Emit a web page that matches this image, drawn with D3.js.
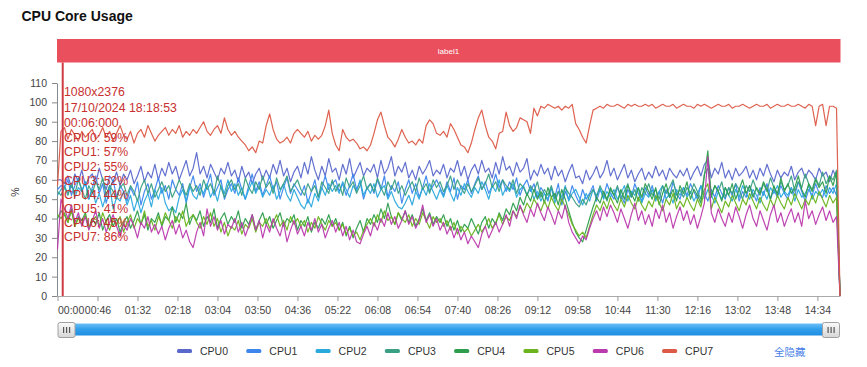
<!DOCTYPE html>
<html><head><meta charset="utf-8">
<script src="https://cdn.jsdelivr.net/npm/d3@7"></script>
<style>
html,body{margin:0;padding:0;background:#fff;}
svg{display:block;font-family:"Liberation Sans",Arial,Helvetica,sans-serif;}
</style></head><body>
<svg id="chart" width="867" height="367"></svg>
<script>
const chartTitle = "CPU Core Usage";
const markLabel = "label1";
const seriesNames = ["CPU0","CPU1","CPU2","CPU3","CPU4","CPU5","CPU6","CPU7"];
const sampleSeconds = d3.range(0, 901, 4);

const cpu0 = [
60,60,58,62,56,63,59,65,57,61, 63,58,66,60,55,62,59,64,57,63,
60,65,58,62,67,59,64,61,68,60, 66,62,69,63,67,60,65,70,62,66,
74,63,67,61,68,64,60,66,63,69, 62,65,59,67,61,64,58,63,66,60,
65,61,68,63,70,62,66,59,64,67, 61,69,63,72,65,60,67,62,71,64,
66,60,68,63,71,61,65,69,62,66, 64,68,61,70,63,66,72,62,67,64,
69,61,65,60,67,63,66,70,62,65, 63,68,61,66,64,70,62,67,60,65,
68,63,70,64,66,61,69,63,72,65, 67,62,69,64,66,71,60,65,62,68,
63,66,60,67,62,65,59,64,68,61, 62,58,65,60,63,67,61,64,70,62,
66,60,64,68,61,65,59,63,66,60, 64,61,67,62,65,60,66,63,61,65,
62,66,60,64,67,62,68,70,61,66, 63,69,61,65,60,66,62,64,67,61,
65,60,66,62,68,63,59,65,61,64, 62,67,60,64,66,61,65,63,60,66,
62,64,59,65,61,0];
const cpu1 = [
55,57,56,60,52,57,61,54,59,50, 56,62,53,58,48,55,60,51,57,54,
49,56,52,59,47,54,58,50,55,61, 53,57,50,60,55,52,58,48,56,62,
54,58,51,57,63,52,56,60,50,55, 58,53,61,55,50,57,63,54,59,52,
57,62,55,59,50,56,61,53,58,55, 52,57,48,54,60,51,56,62,55,58,
60,54,58,52,57,63,55,59,50,56, 58,53,60,55,62,51,57,54,59,48,
55,60,53,58,51,56,62,54,57,60, 56,52,59,54,61,50,57,55,60,53,
58,62,55,59,53,57,63,56,60,54, 59,55,61,52,57,60,54,58,51,56,
53,49,56,51,58,47,54,50,57,52, 48,55,50,53,57,49,55,51,58,53,
50,56,52,48,55,51,58,53,49,56, 52,57,50,54,48,55,51,59,53,50,
56,52,58,54,50,57,53,49,55,51, 57,53,50,56,52,58,49,54,51,57,
53,49,56,52,58,50,55,51,57,53, 50,56,52,59,54,49,55,52,58,53,
51,57,53,56,52,0];
const cpu2 = [
52,55,57,53,58,51,56,54,59,50, 55,48,53,46,52,57,45,51,49,54,
47,52,44,50,43,49,53,46,55,50, 56,48,44,46,43,51,55,49,57,52,
50,56,53,58,51,55,49,57,53,60, 54,58,52,56,50,55,59,53,57,51,
55,52,57,50,54,58,52,49,55,51, 47,45,50,46,53,49,56,52,58,54,
57,53,59,55,51,57,54,60,52,56, 53,58,51,55,57,50,54,49,46,45,
48,52,47,54,50,56,52,58,54,50, 55,51,57,53,49,56,52,58,54,51,
56,53,59,55,50,57,54,60,52,56, 54,58,51,55,57,52,56,50,54,49,
53,50,56,48,54,51,57,49,53,55, 51,47,53,49,55,52,56,50,54,51,
55,50,53,57,49,54,52,56,48,53, 51,55,49,54,57,50,53,48,55,52,
56,51,54,49,53,57,50,55,52,48, 54,50,56,52,49,55,51,57,53,50,
55,52,48,54,50,56,53,57,51,54, 52,56,49,55,51,53,57,50,54,52,
55,51,56,53,58,0];
const cpu3 = [
54,52,56,52,58,53,60,55,50,57, 53,59,55,61,52,57,54,50,56,58,
52,57,54,49,56,60,53,58,51,55, 59,54,57,51,55,60,56,52,58,54,
57,52,60,55,58,53,62,56,51,57, 60,55,58,52,61,56,53,59,55,62,
56,59,53,61,55,58,62,54,57,60, 55,52,58,54,57,51,59,56,53,60,
54,58,52,61,56,59,53,57,62,55, 58,54,61,56,52,59,55,60,53,57,
52,56,59,54,61,55,58,53,60,56, 59,54,57,62,55,60,56,53,58,54,
57,61,55,58,63,56,59,54,60,57, 55,60,53,58,56,52,57,54,59,51,
55,52,57,50,54,49,56,53,51,48, 46,50,47,52,55,51,57,53,49,55,
52,57,50,54,58,51,55,49,56,53, 58,52,55,50,57,53,56,60,52,55,
51,56,53,58,54,50,63,66,52,57, 54,59,51,56,53,58,55,50,57,54,
60,55,52,58,54,61,56,53,59,55, 57,62,54,59,56,63,58,55,61,57,
64,58,62,60,65,0];
const cpu4 = [
40,44,42,38,45,36,41,39,43,35, 40,37,43,34,39,42,36,40,33,38,
41,35,39,44,37,42,34,40,38,43, 36,41,39,46,38,43,40,48,37,42,
39,44,36,41,38,45,35,40,43,37, 41,38,44,35,40,37,42,34,39,43,
37,41,35,39,43,36,40,38,42,34, 39,36,41,33,38,35,40,37,42,36,
40,34,38,31,36,30,35,39,33,40, 37,42,38,45,40,48,41,37,43,39,
44,38,42,36,40,45,39,43,37,41, 38,42,36,40,34,39,33,37,35,40,
36,32,38,41,35,40,37,43,39,45, 42,48,44,51,47,53,49,55,50,54,
48,56,51,53,47,55,50,44,38,33, 30,28,34,40,46,51,48,54,50,56,
52,48,55,50,57,53,49,56,51,58, 54,50,56,47,53,58,51,55,49,57,
53,59,50,55,52,48,62,75,51,57, 54,49,56,52,58,50,55,60,53,57,
51,56,53,59,55,50,57,52,61,54, 58,53,56,62,55,51,58,54,60,56,
59,53,62,57,64,0];
const cpu5 = [
42,40,43,38,44,36,40,37,42,35, 39,41,36,43,38,34,40,37,41,33,
38,42,35,40,37,44,36,39,34,41, 37,43,39,35,41,38,44,36,40,42,
38,35,41,37,43,36,40,33,38,31, 36,34,39,32,37,35,40,33,38,36,
40,35,38,42,36,39,34,41,37,40, 36,39,33,38,35,41,37,34,39,36,
38,34,37,32,35,31,33,29,34,37, 40,36,42,38,44,39,41,37,43,40,
38,42,36,40,37,43,39,35,41,38, 40,36,39,34,38,32,36,33,35,31,
34,37,33,36,40,35,38,42,37,41, 39,44,41,46,43,48,45,50,47,44,
49,45,51,47,44,50,46,42,37,34, 31,33,30,36,42,47,44,49,45,51,
47,44,50,46,52,48,45,51,47,44, 49,46,52,48,44,50,47,53,45,49,
46,51,47,44,50,46,55,58,45,51, 47,43,49,46,52,48,44,50,47,53,
49,45,51,47,44,50,46,52,48,45, 51,47,53,49,45,50,47,52,48,54,
50,46,52,48,51,0];
const cpu6 = [
24,50,45,40,47,38,43,36,41,34, 39,44,35,40,33,38,42,36,31,37,
34,40,36,30,38,35,41,33,37,32, 36,29,35,39,32,37,30,34,28,25,
33,38,31,45,36,41,34,39,32,37, 35,40,33,38,31,36,42,34,39,30,
37,33,40,35,31,38,28,34,39,32, 36,31,38,34,40,33,37,30,35,39,
33,38,31,36,29,34,28,27,32,36, 31,38,34,40,36,43,37,41,35,39,
44,37,41,35,39,47,38,42,36,40, 34,38,32,36,30,35,29,33,27,31,
28,25,32,36,30,34,38,33,37,42, 36,44,40,47,42,38,45,41,48,43,
39,46,42,37,44,40,47,38,33,30, 27,31,29,35,40,44,39,46,41,47,
43,38,45,40,35,42,48,39,44,37, 42,36,45,40,47,38,43,35,41,46,
39,44,37,42,35,41,48,72,43,38, 45,40,36,43,38,46,41,35,42,47,
40,36,44,39,34,42,47,38,43,36, 41,45,38,43,36,49,40,44,37,42,
46,39,44,38,41,0];
const cpu7 = [
57,85,87,81,86,83,80,85,82,84, 86,81,83,87,82,85,80,84,88,83,
81,85,79,84,86,82,88,84,80,83, 85,87,83,86,84,88,82,85,83,86,
84,87,90,85,83,86,88,84,92,86, 83,85,82,80,78,75,77,74,80,79,
88,94,86,81,79,80,82,79,84,86, 84,82,85,80,83,81,83,88,96,84,
78,75,86,82,80,81,79,76,77,75, 78,84,91,95,88,82,80,77,81,86,
82,79,80,78,81,79,88,91,89,84, 83,85,82,89,86,82,78,77,74,79,
86,92,96,88,82,80,76,84,85,95, 88,85,87,92,91,90,84,97,93,98,
97,99,98,97,98,96,98,97,99,89, 86,82,79,88,96,97,98,97,99,98,
98,99,98,97,99,98,99,98,98,99, 98,99,97,98,99,98,98,99,97,98,
99,98,98,97,99,98,99,98,97,98, 99,98,98,99,97,98,98,99,98,97,
98,99,98,98,99,97,98,99,98,98, 99,98,98,99,98,97,99,98,88,98,
99,88,98,98,97,0];
const seriesValues = [cpu0, cpu1, cpu2, cpu3, cpu4, cpu5, cpu6, cpu7];
const seriesColors = ["#5a68cc","#3d86ee","#2aa9dc","#3aa083","#2e9e4e","#6cb41e","#bb3aae","#dc5a46"];

const xTickSeconds = [0,46,92,138,184,230,276,322,368,414,460,506,552,598,644,690,736,782,828,874];
const xTickLabels = ["00:00","00:46","01:32","02:18","03:04","03:50","04:36","05:22","06:08","06:54",
  "07:40","08:26","09:12","09:58","10:44","11:30","12:16","13:02","13:48","14:34"];
const yTickValues = [0,10,20,30,40,50,60,70,80,90,100,110];
const yAxisTitle = "%";
const markerSecond = 6;
const tooltipHeader = ["1080x2376","17/10/2024 18:18:53","00:06:000"];
const tooltipValues = [59,57,55,52,44,41,45,86];
const toggleLabel = "全隐藏";

const svg = d3.select("#chart");
const x = d3.scaleLinear().domain([0, 900]).range([57.5, 840]);
const y = d3.scaleLinear().domain([0, 110]).range([296, 83]);

// title
svg.append("text").attr("x", 21.5).attr("y", 21).attr("font-size", "14px")
  .attr("font-weight", "bold").attr("fill", "#111").text(chartTitle);

// mark band
svg.append("rect").attr("x", 57).attr("y", 39).attr("width", 783.5).attr("height", 23.5).attr("fill", "#ea4f5e");
svg.append("text").attr("x", 448.5).attr("y", 51).attr("text-anchor", "middle")
  .attr("dominant-baseline", "central").attr("font-size", "8px").attr("fill", "#fff").text(markLabel);

// axes
const yAxis = d3.axisLeft(y).tickValues(yTickValues).tickSize(5).tickSizeOuter(0).tickPadding(5);
const gy = svg.append("g").attr("transform", "translate(57,0)").call(yAxis);
gy.select(".domain").attr("stroke", "#888");
gy.selectAll(".tick line").attr("stroke", "#888");
gy.selectAll(".tick text").attr("font-size", "10.5px").attr("fill", "#444")
  .attr("font-family", '"Liberation Sans",Arial,sans-serif');

const xAxis = d3.axisBottom(x).tickValues(xTickSeconds).tickFormat((d, i) => xTickLabels[i])
  .tickSize(5).tickSizeOuter(0).tickPadding(6);
const gx = svg.append("g").attr("transform", "translate(0,296)").call(xAxis);
gx.select(".domain").attr("stroke", "#aaa");
gx.selectAll(".tick line").attr("stroke", "#999");
gx.selectAll(".tick text").attr("font-size", "10.5px").attr("fill", "#444")
  .attr("font-family", '"Liberation Sans",Arial,sans-serif');
gx.selectAll(".tick text").filter((d, i) => i === 0).attr("text-anchor", "start");

svg.append("text").attr("transform", "translate(19,192) rotate(-90)").attr("text-anchor", "middle")
  .attr("font-size", "10.5px").attr("fill", "#333").text(yAxisTitle);

// series lines
const line = d3.line().x((d, i) => x(sampleSeconds[i])).y(d => y(d));
seriesValues.forEach((vals, k) => {
  svg.append("path").datum(vals).attr("d", line).attr("fill", "none")
    .attr("stroke", seriesColors[k]).attr("stroke-width", 1.2).attr("stroke-linejoin", "round")
    .attr("opacity", 0.95);
});

// marker line
svg.append("line").attr("x1", x(markerSecond)).attr("x2", x(markerSecond))
  .attr("y1", 62.5).attr("y2", y(0)).attr("stroke", "#cf3a45").attr("stroke-width", 2);

// tooltip text
const tipG = svg.append("g").attr("font-size", "12.3px").attr("fill", "#c8302f");
const tipLines = tooltipHeader.concat(seriesNames.map((n, i) => n + ": " + tooltipValues[i] + "%"));
const tipY = [91.7, 107.6, 123.3].concat(seriesNames.map((n, i) => 138.3 + 14.15 * i));
tipLines.forEach((t, i) => {
  tipG.append("text").attr("x", 64).attr("y", tipY[i]).attr("dominant-baseline", "central").text(t);
});

// data zoom slider
const defs = svg.append("defs");
const bg = defs.append("linearGradient").attr("id", "barGrad").attr("x1", 0).attr("y1", 0).attr("x2", 0).attr("y2", 1);
bg.append("stop").attr("offset", "0%").attr("stop-color", "#6cc0f6");
bg.append("stop").attr("offset", "45%").attr("stop-color", "#32a0ec");
bg.append("stop").attr("offset", "100%").attr("stop-color", "#1f8ee2");
const hg = defs.append("linearGradient").attr("id", "handleGrad").attr("x1", 0).attr("y1", 0).attr("x2", 0).attr("y2", 1);
hg.append("stop").attr("offset", "0%").attr("stop-color", "#fafafa");
hg.append("stop").attr("offset", "100%").attr("stop-color", "#d6d6d6");

svg.append("rect").attr("x", 66).attr("y", 323.5).attr("width", 765).attr("height", 12)
  .attr("fill", "url(#barGrad)");
[x(0), x(900) - 18].forEach(hx => {
  svg.append("rect").attr("x", hx + 0.5).attr("y", 322.5).attr("width", 17).attr("height", 15).attr("rx", 2)
    .attr("fill", "url(#handleGrad)").attr("stroke", "#a0a0a0");
  [-3, 0, 3].forEach(off => {
    svg.append("rect").attr("x", hx + 8.5 + off).attr("y", 327).attr("width", 1.2).attr("height", 6).attr("fill", "#555");
  });
});

// legend
const legG = svg.append("g").attr("font-size", "10.5px");
seriesNames.forEach((n, k) => {
  const lx = 177 + 69.3 * k;
  legG.append("rect").attr("x", lx).attr("y", 349).attr("width", 15).attr("height", 4).attr("rx", 1.5)
    .attr("fill", seriesColors[k]);
  legG.append("text").attr("x", lx + 23).attr("y", 351).attr("dominant-baseline", "central")
    .attr("fill", "#333").text(n);
});
legG.append("text").attr("x", 774).attr("y", 351).attr("dominant-baseline", "central")
  .attr("fill", "#4a7fe6").attr("font-family", '"Noto Sans CJK SC",sans-serif').text(toggleLabel);
</script>
</body></html>
